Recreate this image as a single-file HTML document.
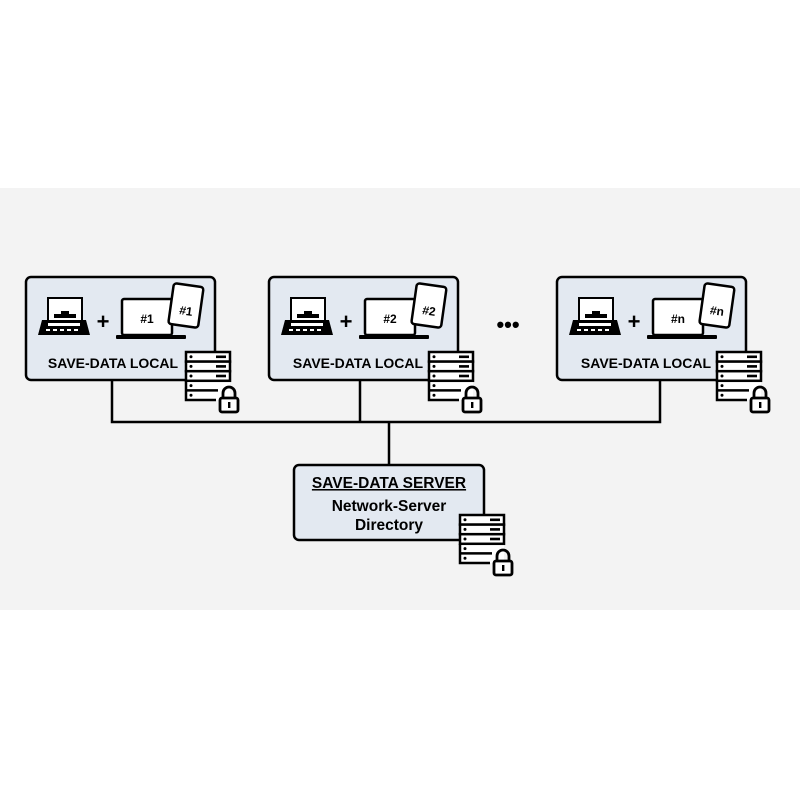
<!DOCTYPE html>
<html><head><style>body{margin:0;background:#fff}</style></head><body>
<svg width="800" height="800" xmlns="http://www.w3.org/2000/svg" font-family="Liberation Sans, sans-serif" font-weight="bold">
<defs>
<g id="srv">
  <rect x="0" y="0" width="44" height="48" fill="#fff"/>
  <g fill="#fff" stroke="#000" stroke-width="2.5">
    <rect x="0" y="0" width="44" height="9.6"/>
    <rect x="0" y="9.6" width="44" height="9.6"/>
    <rect x="0" y="19.2" width="44" height="9.6"/>
  </g>
  <path d="M0 28.8V48H30 M0 38.4H32" fill="none" stroke="#000" stroke-width="2.5"/>
  <g fill="#000"><circle cx="5" cy="4.8" r="1.5"/><circle cx="5" cy="14.4" r="1.5"/><circle cx="5" cy="24" r="1.5"/><circle cx="5" cy="33.6" r="1.5"/><circle cx="5" cy="43.2" r="1.5"/>
  <rect x="30" y="3.5" width="10" height="2.6"/><rect x="30" y="13.1" width="10" height="2.6"/><rect x="30" y="22.7" width="10" height="2.6"/></g>
  <rect x="33" y="46" width="20" height="14" fill="#fff"/>
  <path d="M37 46v-5a6 6 0 0 1 12 0v5" fill="none" stroke="#000" stroke-width="2.8"/>
  <rect x="34" y="46" width="18" height="14" rx="2" fill="#fff" stroke="#000" stroke-width="2.8"/>
  <rect x="42" y="50" width="2.4" height="6" fill="#000"/>
</g>
<g id="dev">
  <rect x="0" y="0" width="189" height="103" rx="5" fill="#e3e9f1" stroke="#000" stroke-width="2.5"/>
  <path d="M22 43V21H56V43" fill="#fff" stroke="#000" stroke-width="2"/>
  <rect x="28" y="37" width="22" height="4" fill="#000"/>
  <rect x="35" y="34" width="8" height="3" fill="#000"/>
  <path d="M16 43H60L64 58H12Z" fill="#000"/>
  <g fill="#fff"><rect x="22" y="46" width="32" height="3"/><rect x="20" y="52" width="4" height="2"/><rect x="27" y="52" width="4" height="2"/><rect x="34" y="52" width="4" height="2"/><rect x="41" y="52" width="4" height="2"/><rect x="48" y="52" width="4" height="2"/></g>
  <text x="77" y="52" font-size="22" text-anchor="middle">+</text>
  <rect x="96" y="22" width="50" height="36" rx="2" fill="#fff" stroke="#000" stroke-width="2.5"/>
  <rect x="90" y="58" width="70" height="4" rx="1" fill="#000"/>
  <g transform="rotate(8 160 28)">
    <rect x="145" y="8" width="30" height="41" rx="3" fill="#fff" stroke="#000" stroke-width="2.5"/>
  </g>
</g>
</defs>
<rect x="0" y="188" width="800" height="422" fill="#f3f3f3"/>
<g fill="none" stroke="#000" stroke-width="2.5">
  <path d="M112 380V422H660V380 M360 380V422 M389 422V465"/>
</g>
<g transform="translate(26 277)"><use href="#dev"/><text x="121" y="46" font-size="12" text-anchor="middle">#1</text><text x="160" y="38" font-size="12" text-anchor="middle" transform="rotate(8 160 34)">#1</text><text x="87" y="91" font-size="14" text-anchor="middle">SAVE-DATA LOCAL</text><use href="#srv" x="160" y="75"/></g>
<g transform="translate(269 277)"><use href="#dev"/><text x="121" y="46" font-size="12" text-anchor="middle">#2</text><text x="160" y="38" font-size="12" text-anchor="middle" transform="rotate(8 160 34)">#2</text><text x="89" y="91" font-size="14" text-anchor="middle">SAVE-DATA LOCAL</text><use href="#srv" x="160" y="75"/></g>
<g transform="translate(557 277)"><use href="#dev"/><text x="121" y="46" font-size="12" text-anchor="middle">#n</text><text x="160" y="38" font-size="12" text-anchor="middle" transform="rotate(8 160 34)">#n</text><text x="89" y="91" font-size="14" text-anchor="middle">SAVE-DATA LOCAL</text><use href="#srv" x="160" y="75"/></g>
<text x="508" y="332" font-size="22" text-anchor="middle">•••</text>
<rect x="294" y="465" width="190" height="75" rx="5" fill="#e3e9f1" stroke="#000" stroke-width="2.5"/>
<text x="389" y="488" font-size="15.5" text-anchor="middle" text-decoration="underline">SAVE-DATA SERVER</text>
<text x="389" y="511" font-size="15.5" text-anchor="middle">Network-Server</text>
<text x="389" y="530" font-size="15.5" text-anchor="middle">Directory</text>
<use href="#srv" x="460" y="515"/>
</svg>
</body></html>
